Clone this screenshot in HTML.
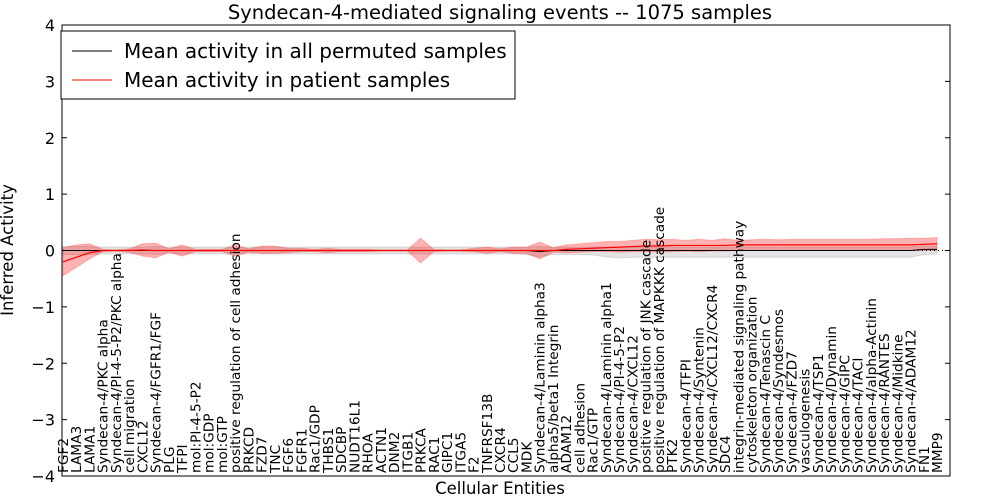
<!DOCTYPE html>
<html><head><meta charset="utf-8"><style>
body{margin:0;background:#fff;}
svg{display:block;font-family:"DejaVu Sans","Liberation Sans",sans-serif;}
</style></head><body>
<svg id="chart" width="1000" height="500"></svg>
<script>
const categories=["FGF2","LAMA3","LAMA1","Syndecan-4/PKC alpha","Syndecan-4/PI-4-5-P2/PKC alpha","cell migration","CXCL12","Syndecan-4/FGFR1/FGF","PLG","TFPI","mol:PI-4-5-P2","mol:GDP","mol:GTP","positive regulation of cell adhesion","PRKCD","FZD7","TNC","FGF6","FGFR1","Rac1/GDP","THBS1","SDCBP","NUDT16L1","RHOA","ACTN1","DNM2","ITGB1","PRKCA","RAC1","GIPC1","ITGA5","F2","TNFRSF13B","CXCR4","CCL5","MDK","Syndecan-4/Laminin alpha3","alpha5/beta1 Integrin","ADAM12","cell adhesion","Rac1/GTP","Syndecan-4/Laminin alpha1","Syndecan-4/PI-4-5-P2","Syndecan-4/CXCL12","positive regulation of JNK cascade","positive regulation of MAPKKK cascade","PTK2","Syndecan-4/TFPI","Syndecan-4/Syntenin","Syndecan-4/CXCL12/CXCR4","SDC4","integrin-mediated signaling pathway","cytoskeleton organization","Syndecan-4/Tenascin C","Syndecan-4/Syndesmos","Syndecan-4/FZD7","vasculogenesis","Syndecan-4/TSP1","Syndecan-4/Dynamin","Syndecan-4/GIPC","Syndecan-4/TACI","Syndecan-4/alpha-Actinin","Syndecan-4/RANTES","Syndecan-4/Midkine","Syndecan-4/ADAM12","FN1","MMP9"];
const patientMean=[-0.2,-0.12,-0.04,0,0,0,0.01,0,0,0,0,0,0,0,0,0,0,0,0,0,0,0,0,0,0,0,0,0,0,0,0,0,0,0,0,0,0,0,0.02,0.03,0.04,0.05,0.06,0.07,0.08,0.08,0.09,0.09,0.09,0.09,0.09,0.1,0.1,0.1,0.1,0.1,0.1,0.1,0.1,0.1,0.1,0.1,0.1,0.1,0.1,0.11,0.12];
const patientLo=[-0.45,-0.3,-0.15,-0.02,-0.01,-0.03,-0.1,-0.13,-0.03,-0.1,-0.02,-0.02,-0.02,-0.1,-0.03,-0.05,-0.05,-0.04,-0.02,-0.02,-0.04,-0.02,-0.02,-0.02,-0.01,-0.01,-0.01,-0.22,-0.02,-0.01,-0.01,-0.02,-0.05,-0.02,-0.05,-0.05,-0.15,-0.03,-0.04,-0.03,-0.02,-0.02,-0.03,-0.02,-0.02,-0.03,-0.02,-0.01,-0.02,-0.01,-0.01,0,0,0,0,0,0,0,0,0,0,0,0,0,0,0,0];
const patientHi=[0.05,0.1,0.12,0.02,0.01,0.03,0.12,0.13,0.03,0.1,0.02,0.02,0.02,0.1,0.03,0.08,0.08,0.04,0.04,0.02,0.04,0.02,0.02,0.02,0.01,0.01,0.01,0.22,0.02,0.01,0.01,0.04,0.06,0.03,0.06,0.06,0.15,0.05,0.1,0.12,0.14,0.16,0.16,0.18,0.2,0.19,0.2,0.18,0.2,0.18,0.21,0.18,0.19,0.2,0.19,0.2,0.2,0.2,0.2,0.2,0.2,0.2,0.21,0.21,0.22,0.22,0.23];
const permMean=[0,0,0,0,0,0,0,0,0,0,0,0,0,0,0,0,0,0,0,0,0,0,0,0,0,0,0,0,0,0,0,0,0,0,0,0,-0.02,0,0,0,0,0,0,0,0,0,0,0,0,0,0,0,0,0,0,0,0,0,0,0,0,0,0,0,0,0.02,0.02];
const permLo=[-0.07,-0.07,-0.07,-0.06,-0.06,-0.06,-0.06,-0.07,-0.06,-0.06,-0.06,-0.06,-0.06,-0.06,-0.06,-0.06,-0.06,-0.06,-0.06,-0.06,-0.06,-0.06,-0.06,-0.06,-0.06,-0.06,-0.06,-0.06,-0.06,-0.06,-0.06,-0.06,-0.06,-0.06,-0.06,-0.07,-0.11,-0.07,-0.07,-0.07,-0.08,-0.11,-0.13,-0.12,-0.12,-0.12,-0.12,-0.12,-0.12,-0.12,-0.12,-0.12,-0.12,-0.12,-0.12,-0.12,-0.12,-0.12,-0.12,-0.12,-0.12,-0.12,-0.12,-0.12,-0.12,-0.07,-0.06];
const permHi=[0.07,0.07,0.07,0.06,0.06,0.06,0.06,0.07,0.06,0.06,0.06,0.06,0.06,0.06,0.06,0.06,0.06,0.06,0.06,0.06,0.06,0.06,0.06,0.06,0.06,0.06,0.06,0.06,0.06,0.06,0.06,0.06,0.06,0.06,0.06,0.06,0.07,0.06,0.06,0.06,0.06,0.06,0.06,0.06,0.06,0.06,0.06,0.06,0.06,0.06,0.06,0.06,0.06,0.06,0.06,0.06,0.06,0.06,0.06,0.06,0.06,0.06,0.06,0.06,0.06,0.08,0.08];
const yTicks=[-4,-3,-2,-1,0,1,2,3,4];

const NS="http://www.w3.org/2000/svg";
const svg=document.getElementById('chart');
const L=62,R=950,T=25,B=476;
const x0=63,x1=937;
function xs(i){return x0+(x1-x0)*i/(categories.length-1);}
function ys(v){return T+(4-v)/8*(B-T);}
function el(tag,attrs,parent){const e=document.createElementNS(NS,tag);for(const k in attrs)e.setAttribute(k,attrs[k]);(parent||svg).appendChild(e);return e;}
function band(lo,hi){let d='';lo.forEach((v,i)=>{d+=(i?'L':'M')+xs(i)+','+ys(v);});for(let i=hi.length-1;i>=0;i--)d+='L'+xs(i)+','+ys(hi[i]);return d+'Z';}
function line(a){return a.map((v,i)=>(i?'L':'M')+xs(i)+','+ys(v)).join('');}

let p=el('path',{d:band(permLo,permHi),fill:'#bbbbbb','fill-opacity':'0.4',stroke:'#aaaaaa','stroke-opacity':'0.4'});

p=el('path',{d:band(patientLo,patientHi),fill:'#ff0000','fill-opacity':'0.3',stroke:'#ff0000','stroke-opacity':'0.2'});

p=el('line',{x1:L,x2:R,y1:ys(0),y2:ys(0),stroke:'#000','stroke-dasharray':'1,3','stroke-width':1});

p=el('path',{d:line(permMean),fill:'none',stroke:'#000','stroke-width':1});

p=el('path',{d:line(patientMean),fill:'none',stroke:'#ff0000','stroke-width':1.2});


p=el('rect',{x:L,y:T,width:R-L,height:B-T,fill:'none',stroke:'#000','stroke-width':1});


yTicks.forEach(v=>{
  const y=ys(v);
  let t=el('line',{x1:L,x2:L+5,y1:y,y2:y,stroke:'#000'});
  
  t=el('line',{x1:R-5,x2:R,y1:y,y2:y,stroke:'#000'});
  
  t=el('text',{x:L-7,y:y+6,'text-anchor':'end','font-size':16});
  t.textContent=(v<0?'\u2212':'')+Math.abs(v);
  
});
categories.forEach((c,i)=>{
  const x=xs(i);
  const t=el('text',{x:0,y:0,'font-size':13.7,transform:'translate('+(x+5)+','+(B-3)+') rotate(-90)'});
  t.textContent=c;
  
});
let t=el('text',{x:500,y:19,'text-anchor':'middle','font-size':19.5});
t.textContent='Syndecan-4-mediated signaling events -- 1075 samples';

t=el('text',{x:500,y:494,'text-anchor':'middle','font-size':16.5});
t.textContent='Cellular Entities';

t=el('text',{x:0,y:0,'text-anchor':'middle','font-size':16.5,transform:'translate(13,250) rotate(-90)'});
t.textContent='Inferred Activity';


const g=el('g',{});

el('rect',{x:61,y:31,width:454,height:68,fill:'#fff',stroke:'#000'},g);
el('line',{x1:72,x2:112,y1:51,y2:51,stroke:'#000'},g);
el('line',{x1:72,x2:112,y1:80,y2:80,stroke:'#ff0000'},g);
t=el('text',{x:124,y:58,'font-size':20},g);t.textContent='Mean activity in all permuted samples';

t=el('text',{x:124,y:87,'font-size':20},g);t.textContent='Mean activity in patient samples';

</script>
</body></html>
